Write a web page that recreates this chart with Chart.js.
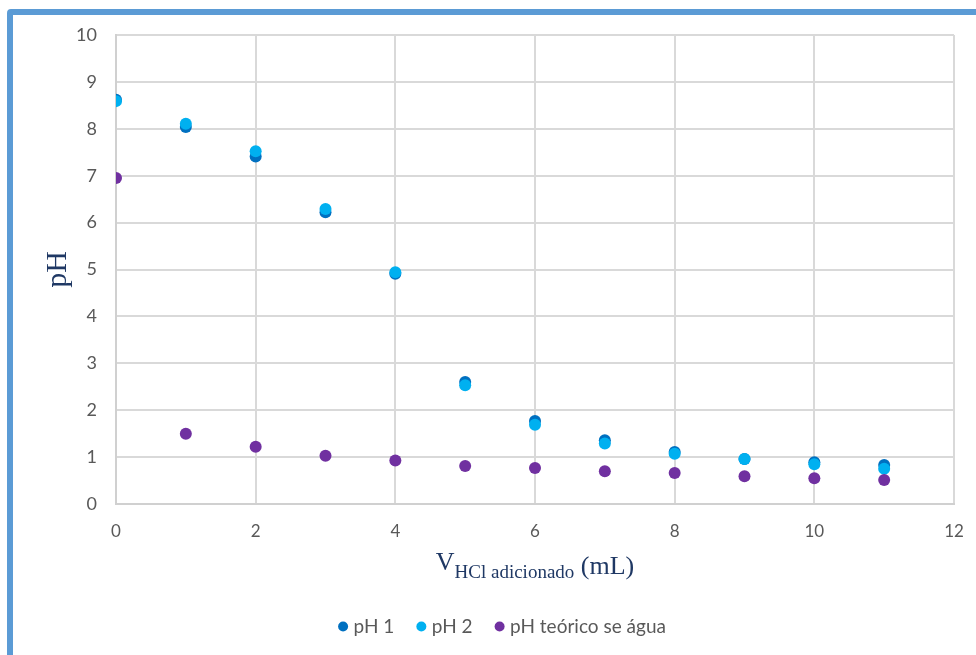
<!DOCTYPE html>
<html>
<head>
<meta charset="utf-8">
<script src="https://cdn.jsdelivr.net/npm/chart.js@4.4.0/dist/chart.umd.min.js"></script>
<style>
  html, body { margin: 0; padding: 0; background: #fff; overflow: hidden; }
  #wrap { position: relative; width: 976px; height: 655px; overflow: hidden; }
  #frame {
    position: absolute; left: 7px; top: 9px; width: 1000px; height: 700px;
    border: 6px solid #5B9BD5; border-radius: 4px; box-sizing: border-box;
    pointer-events: none;
  }
  canvas { position: absolute; left: 0; top: 0; }
</style>
</head>
<body>
<div id="wrap">
  <canvas id="phChart" width="1008" height="655"></canvas>
  <div id="frame"></div>
</div>
<script>
// volume de HCl adicionado (mL)
const volumes = [0, 1, 2, 3, 4, 5, 6, 7, 8, 9, 10, 11];
const ph1 = [8.62, 8.04, 7.41, 6.22, 4.91, 2.60, 1.77, 1.36, 1.11, 0.96, 0.89, 0.83];
const ph2 = [8.59, 8.11, 7.52, 6.29, 4.94, 2.53, 1.69, 1.29, 1.07, 0.96, 0.85, 0.75];
const phTeorico = [6.95, 1.50, 1.22, 1.03, 0.93, 0.81, 0.77, 0.70, 0.66, 0.59, 0.55, 0.51];
const seriesNames = ["pH 1", "pH 2", "pH teórico se água"];
const seriesColors = ["#0070C0", "#00B0F0", "#7030A0"];

const toPoints = (ys) => volumes.map((v, i) => ({ x: v, y: ys[i] }));

// título do eixo x com subscrito
const xTitle = {
  id: "xTitle",
  afterDraw(chart) {
    const c = chart.ctx;
    const area = chart.chartArea;
    const big = "26px 'Liberation Serif', 'Times New Roman', serif";
    const small = "19px 'Liberation Serif', 'Times New Roman', serif";
    const parts = [
      { t: "V", f: big, dy: -2 },
      { t: "HCl adicionado", f: small, dy: 6 },
      { t: " (mL)", f: big, dy: 2 }
    ];
    c.save();
    let w = 0;
    parts.forEach(p => { c.font = p.f; p.w = c.measureText(p.t).width; w += p.w; });
    let x = (area.left + area.right) / 2 - w / 2;
    const base = 572;
    c.fillStyle = "#1F3864";
    c.textBaseline = "alphabetic";
    parts.forEach(p => { c.font = p.f; c.fillText(p.t, x, base + p.dy); x += p.w; });
    c.restore();
  }
};

new Chart(document.getElementById("phChart"), {
  type: "scatter",
  data: {
    datasets: [
      { label: seriesNames[0], data: toPoints(ph1), backgroundColor: seriesColors[0], borderColor: seriesColors[0], order: 3 },
      { label: seriesNames[1], data: toPoints(ph2), backgroundColor: seriesColors[1], borderColor: seriesColors[1], order: 2 },
      { label: seriesNames[2], data: toPoints(phTeorico), backgroundColor: seriesColors[2], borderColor: seriesColors[2], order: 1 }
    ]
  },
  options: {
    responsive: false,
    animation: false,
    layout: { padding: { left: 0, top: 35, right: 0, bottom: 9 } },
    elements: { point: { radius: 6, borderWidth: 0, hoverRadius: 6 } },
    scales: {
      x: {
        type: "linear",
        min: 0, max: 12,
        ticks: { stepSize: 2, padding: 17, color: "#595959", font: { family: "Lato", size: 17 } },
        grid: { color: "#D9D9D9", lineWidth: 2, drawTicks: false },
        border: { color: "#D0D0D0", width: 2 },
        afterFit: (s) => { s.height = 87; s.paddingRight = 54; s.paddingLeft = 0; }
      },
      y: {
        min: 0, max: 10,
        ticks: { stepSize: 1, padding: 19, color: "#595959", font: { family: "Lato", size: 18 } },
        grid: { color: "#D9D9D9", lineWidth: 2, drawTicks: false },
        border: { color: "#D0D0D0", width: 2 },
        title: {
          display: true, text: "pH", color: "#1F3864", padding: { top: 40, bottom: 0 },
          font: { family: "'Liberation Serif', 'Times New Roman', serif", size: 30 }
        },
        afterFit: (s) => { s.width = 116; }
      }
    },
    plugins: {
      tooltip: { enabled: false },
      legend: {
        position: "bottom",
        labels: {
          usePointStyle: true, pointStyle: "circle", boxWidth: 2, boxHeight: 7.07,
          padding: 26, color: "#595959", font: { family: "Lato", size: 19 },
          sort: (a, b) => a.datasetIndex - b.datasetIndex
        }
      }
    }
  },
  plugins: [xTitle]
});
</script>
</body>
</html>
